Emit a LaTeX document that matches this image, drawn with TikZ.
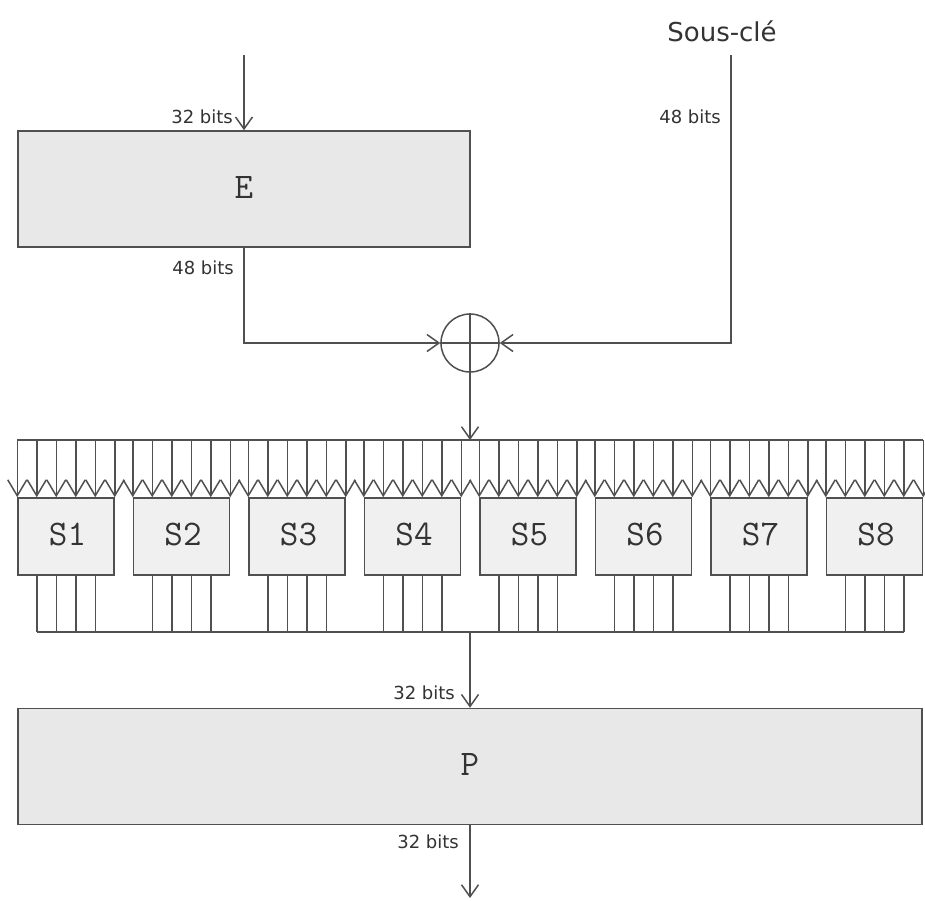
\documentclass[tikz,border=0pt]{standalone}
\usepackage{fontspec}
\setmainfont{DejaVu Sans}
\usetikzlibrary{arrows.meta,calc}
\definecolor{ln}{HTML}{505050}
\definecolor{bigfill}{HTML}{E8E8E8}
\definecolor{sfill}{HTML}{F0F0F0}
\definecolor{txt}{HTML}{333333}
\begin{document}
\begin{tikzpicture}[x=1pt,y=-1pt,
  wire/.style={draw=ln,line width=1.5pt},
  arr/.style={wire,-{Straight Barb[length=12pt,width=17pt]}},
  sarr/.style={wire,-{Straight Barb[length=16pt,width=19pt]}},
  bigbox/.style={draw=ln,fill=bigfill,line width=1.5pt,inner sep=0pt,
    minimum height=116pt,font=\ttfamily\fontsize{36}{36}\selectfont,text=txt},
  sbox/.style={draw=ln,fill=sfill,line width=1.5pt,inner sep=0pt,
    minimum width=96pt,minimum height=77pt,font=\ttfamily\fontsize{36}{36}\selectfont,text=txt},
  lbl/.style={font=\fontsize{18}{18}\selectfont,text=txt,inner sep=0pt},
  xorc/.style={circle,draw=ln,line width=1.5pt,minimum size=58pt,inner sep=0pt}
]
\fill[white] (0,0) rectangle (925,900);
\useasboundingbox (0,0) rectangle (925,900);

\node[bigbox,minimum width=452pt] (E) at (244,189) {\raisebox{4pt}{E}};
\node[bigbox,minimum width=904pt] (P) at (470,766.5) {\raisebox{4pt}{P}};
\foreach \i in {1,...,8}{
  \node[sbox] (S\i) at ({66+(\i-1)*115.5},536.5) {\hspace{3pt}\raisebox{5pt}{S\i}};
}
\node[xorc] (xor) at (470,343) {};
\draw[wire] (xor.north) -- (xor.south);
\draw[wire] (xor.west) -- (xor.east);

\coordinate (in) at (244,55);
\coordinate (key) at (731,55);
\coordinate (bus) at (470,440);
\coordinate (obus) at (470,632);
\coordinate (out) at (470,898);

\node[lbl] (key label) at (722,31) {\fontsize{26}{26}\selectfont Sous-clé};
\node[lbl,anchor=east] (l1) at (233,117) {32 bits};
\node[lbl,anchor=east] (l2) at (721,117) {48 bits};
\node[lbl,anchor=east] (l3) at (234,268) {48 bits};
\node[lbl,anchor=east] (l4) at (455,693) {32 bits};
\node[lbl,anchor=east] (l5) at (459,842) {32 bits};

\draw[arr] (in) -- (E.north);
\draw[arr] (E.south) |- (xor.west);
\draw[arr] (key) |- (xor.east);
\draw[arr] (xor.south) -- (bus);

\foreach \i in {1,...,8}{
  \foreach \j in {0,...,5}{
    \coordinate (S\i-in\j) at ($(S\i.north west)!\j/5!(S\i.north east)$);
    \draw[sarr] (S\i-in\j |- bus) -- (S\i-in\j);
  }
  \foreach \j in {1,...,4}{
    \coordinate (S\i-out\j) at ($(S\i.south west)!\j/5!(S\i.south east)$);
    \draw[wire] (S\i-out\j) -- (S\i-out\j |- obus);
  }
}
\draw[wire] (S1-in0 |- bus) -- (S8-in5 |- bus);
\draw[wire] (S1-out1 |- obus) -- (S8-out4 |- obus);
\draw[arr] (obus) -- (P.north);
\draw[arr] (P.south) -- (out);
\end{tikzpicture}
\end{document}
